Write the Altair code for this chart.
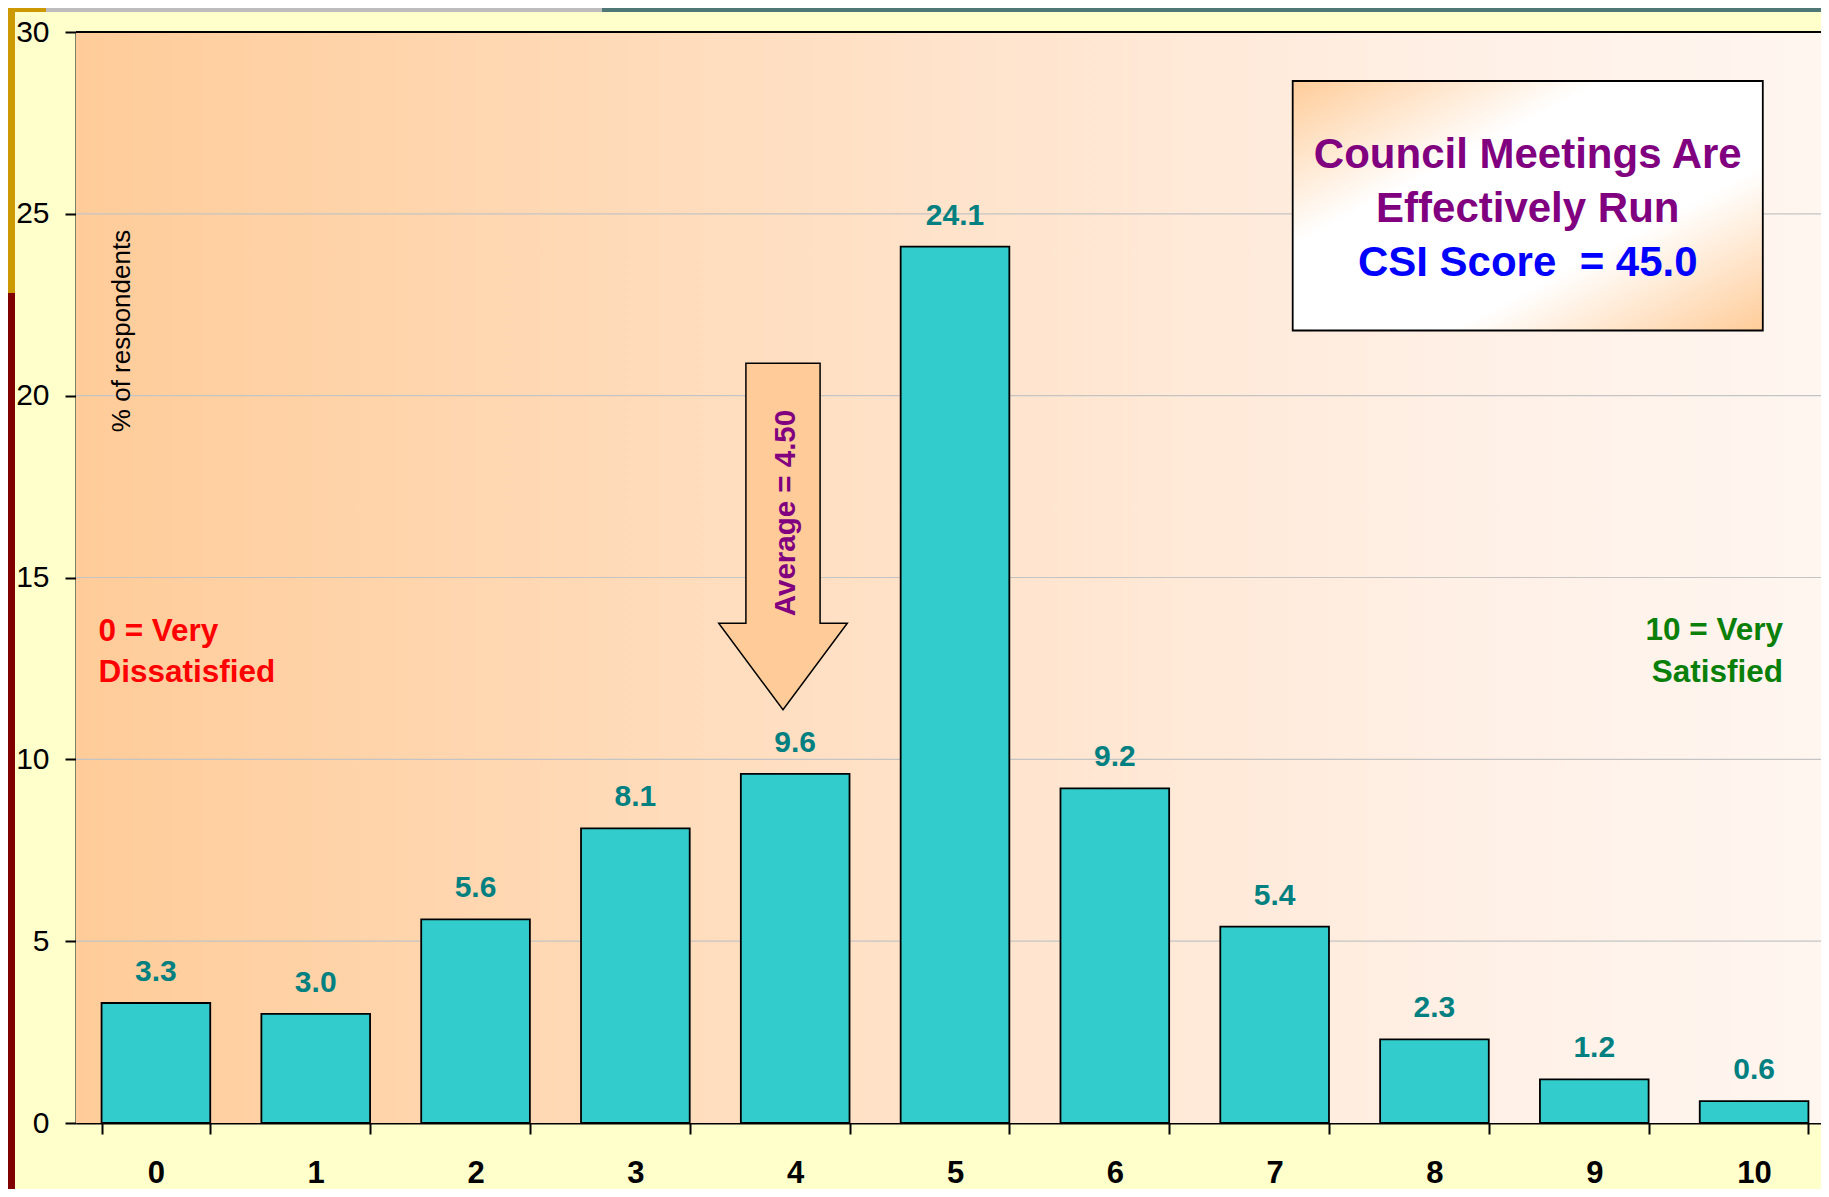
import altair as alt
import pandas as pd

# ---------------- data ----------------
categories = ["0", "1", "2", "3", "4", "5", "6", "7", "8", "9", "10"]
values = [3.3, 3.0, 5.6, 8.1, 9.6, 24.1, 9.2, 5.4, 2.3, 1.2, 0.6]
y_ticks = [0, 5, 10, 15, 20, 25, 30]
grid_values = [5, 10, 15, 20, 25]
box_lines_purple = ["Council Meetings Are", "Effectively Run"]
box_line_blue = "CSI Score\u00a0 = 45.0"
left_lines = ["0 = Very", "Dissatisfied"]
right_lines = ["10 = Very", "Satisfied"]
arrow_text = "Average = 4.50"
y_title = "% of respondents"

# ---------------- layout ----------------
W = 1745          # visible plot width (page is cropped on the right)
XRANGE = 1758     # full category range, extends past the visible edge
H = 1091
PAD = {"left": 68, "top": 24, "right": 0, "bottom": 66}
FONT = "Liberation Sans"

df = pd.DataFrame({"cat": categories, "val": values})
one = pd.DataFrame({"a": [0]})

xscale = alt.Scale(domain=categories, range=[0, XRANGE],
                   paddingInner=0.32, paddingOuter=0.16)
yscale = alt.Scale(domain=[0, 30], nice=False, zero=True)

x_enc = alt.X(
    "cat:N", sort=categories, scale=xscale,
    axis=alt.Axis(
        title=None, labelAngle=0, labelFont=FONT, labelFontSize=31,
        labelFontWeight="bold", labelColor="black", labelPadding=24,
        tickBand="extent", tickSize=11, tickWidth=2, tickColor="black",
        domainColor="black", domainWidth=2, grid=False,
    ),
)
y_enc = alt.Y(
    "val:Q", scale=yscale,
    axis=alt.Axis(
        title=None, values=y_ticks, labelFont=FONT, labelFontSize=30,
        labelColor="black", labelPadding=16, tickSize=11, tickWidth=2,
        tickColor="black", domainColor="black", domainWidth=2, grid=False,
    ),
)


def rect(x1, x2, y1, y2, fill, **kw):
    return alt.Chart(one).mark_rect(fill=fill, **kw).encode(
        x=alt.value(x1), x2=alt.value(x2), y=alt.value(y1), y2=alt.value(y2)
    )


# slide decoration strips
strips = [
    rect(-68, -61, -24, 261, "#CC9900"),
    rect(-68, -61, 261, H + PAD["bottom"], "#800000"),
    rect(-68, -30, -24, -20, "#CC9900"),
    rect(-30, 526, -24, -20, "#BDBDBD"),
    rect(526, W, -24, -20, "#4F7775"),
]

bg = rect(
    0, W, 0, H,
    {
        "gradient": "linear", "x1": 0, "y1": 0, "x2": 1, "y2": 0,
        "stops": [
            {"offset": 0, "color": "#FFCC99"},
            {"offset": 0.5, "color": "#FFE3CB"},
            {"offset": 0.8, "color": "#FFF0E6"},
            {"offset": 1, "color": "#FFF6F0"},
        ],
    },
)

grid = alt.Chart(pd.DataFrame({"g": grid_values})).mark_rule(
    color="#C4C4C4", strokeWidth=1.2
).encode(y=alt.Y("g:Q", scale=yscale), x=alt.value(0), x2=alt.value(W))

top_rule = alt.Chart(one).mark_rule(color="black", strokeWidth=2).encode(
    y=alt.datum(30, scale=yscale), x=alt.value(0), x2=alt.value(W)
)

bars = alt.Chart(df).mark_bar(
    color="#33CCCC", stroke="black", strokeWidth=1.8
).encode(x=x_enc, y=y_enc)

labels = alt.Chart(df).mark_text(
    font=FONT, fontSize=30, fontWeight="bold", color="#008080",
    baseline="alphabetic", dy=-22,
).encode(
    x=alt.X("cat:N", sort=categories, scale=xscale),
    y=alt.Y("val:Q", scale=yscale),
    text=alt.Text("val:Q", format=".1f"),
)

# average arrow
arrow_path = "M -0.214 -1 L 0.214 -1 L 0.214 0.5 L 0.371 0.5 L 0 1 L -0.371 0.5 L -0.214 0.5 Z"
arrow = alt.Chart(one).mark_point(
    shape=arrow_path, size=346.6 ** 2, filled=True, fill="#FFCC99",
    stroke="black", strokeWidth=1.5, opacity=1, fillOpacity=1,
).encode(x=alt.value(707), y=alt.value(504.5))

arrow_label = alt.Chart(one).mark_text(
    text=arrow_text, font=FONT, fontSize=29.5, fontWeight="bold",
    color="#800080", angle=270, align="center", baseline="middle",
).encode(x=alt.value(710), y=alt.value(481))

# title box
bx1 = 1216.7
bx2 = 1686.8
bcx = (bx1 + bx2) / 2
box = rect(
    bx1, bx2, 49, 298.5,
    {
        "gradient": "linear", "x1": 0, "y1": 0, "x2": 1, "y2": 1,
        "stops": [
            {"offset": 0, "color": "#FFCC99"},
            {"offset": 0.33, "color": "#FFFFFF"},
            {"offset": 0.67, "color": "#FFFFFF"},
            {"offset": 1, "color": "#FFCC99"},
        ],
    },
    stroke="black", strokeWidth=1.8,
)

box_df = pd.DataFrame({"t": box_lines_purple, "py": [135.5, 190.3]})
box_text = alt.Chart(box_df).mark_text(
    font=FONT, fontSize=42, fontWeight="bold", color="#800080",
    align="center", baseline="alphabetic",
).encode(x=alt.value(bcx), y=alt.Y("py:Q", scale=None), text="t:N")

box_text2 = alt.Chart(one).mark_text(
    text=box_line_blue, font=FONT, fontSize=42, fontWeight="bold",
    color="#0000FF", align="center", baseline="alphabetic",
).encode(x=alt.value(bcx), y=alt.value(244))

left_df = pd.DataFrame({"t": left_lines, "py": [608.5, 650.2]})
left_text = alt.Chart(left_df).mark_text(
    font=FONT, fontSize=31.5, fontWeight="bold", color="#FF0000",
    align="left", baseline="alphabetic",
).encode(x=alt.value(22.4), y=alt.Y("py:Q", scale=None), text="t:N")

right_df = pd.DataFrame({"t": right_lines, "py": [607.8, 650.2]})
right_text = alt.Chart(right_df).mark_text(
    font=FONT, fontSize=31.5, fontWeight="bold", color="#0A800A",
    align="right", baseline="alphabetic",
).encode(x=alt.value(1707), y=alt.Y("py:Q", scale=None), text="t:N")

ytitle = alt.Chart(one).mark_text(
    text=y_title, font=FONT, fontSize=26, color="black", angle=270,
    align="center", baseline="middle",
).encode(x=alt.value(46), y=alt.value(299))

chart = alt.layer(
    *strips, bg, grid, top_rule, bars, labels, arrow, arrow_label,
    box, box_text, box_text2, left_text, right_text, ytitle,
).properties(
    width=W, height=H,
    autosize=alt.AutoSizeParams(type="none"),
    padding=PAD,
    background="#FFFFCC",
).configure_view(stroke=None)

chart.save("out.html", embed_options={"renderer": "svg", "actions": False})
